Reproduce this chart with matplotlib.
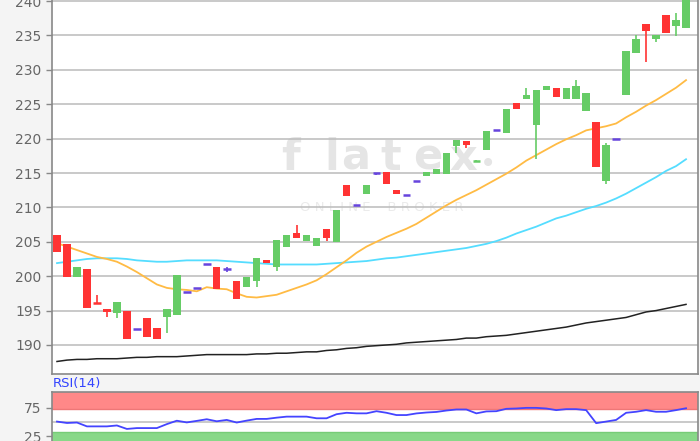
import matplotlib.pyplot as plt
import numpy as np

# OHLC, one entry per trading day
opens = [206.0, 204.7, 199.9, 201.0, 196.05, 195.3, 194.6, 194.9, 192.3, 193.9,
         192.5, 194.1, 194.4, 197.7, 198.3, 201.7, 201.4, 201.0, 199.3, 198.4,
         199.3, 202.4, 201.3, 204.2, 206.3, 205.1, 204.4, 206.8, 204.9, 213.2,
         210.3, 211.9, 215.0, 215.2, 212.6, 211.8, 213.9, 214.5, 214.8, 214.8,
         218.9, 219.6, 216.75, 218.3, 221.3, 220.8, 225.2, 225.8, 222.0, 227.0,
         227.4, 225.8, 225.8, 224.0, 222.4, 213.9, 220.0, 226.4, 232.4, 236.7,
         234.5, 238.0, 236.4, 236.1]
closes = [203.5, 199.9, 201.4, 195.4, 195.95, 194.8, 196.3, 190.8, 192.3, 191.1,
          190.8, 195.3, 200.1, 197.7, 198.3, 201.7, 198.2, 201.0, 196.7, 199.9,
          202.7, 201.9, 205.2, 206.0, 205.6, 206.0, 205.5, 205.5, 209.6, 211.6,
          210.3, 213.2, 215.0, 213.4, 212.0, 211.8, 213.9, 215.2, 215.6, 217.9,
          219.8, 219.0, 216.85, 221.1, 221.3, 224.3, 224.3, 226.3, 227.0, 227.6,
          226.1, 227.4, 227.6, 226.7, 215.8, 219.1, 220.0, 232.8, 234.5, 235.6,
          235.1, 235.4, 237.2, 240.4]
highs = [206.0, 204.7, 201.4, 201.0, 197.2, 195.3, 196.3, 194.9, 192.3, 193.9,
         192.5, 195.3, 200.1, 197.7, 198.3, 201.7, 201.4, 201.4, 199.3, 199.9,
         202.7, 202.4, 205.2, 206.0, 207.4, 206.0, 205.5, 206.8, 209.6, 213.2,
         210.3, 213.2, 215.0, 215.2, 212.6, 211.8, 213.9, 215.2, 215.6, 217.9,
         219.8, 219.6, 216.85, 221.1, 221.3, 224.3, 225.2, 227.4, 227.0, 227.6,
         227.4, 227.4, 228.5, 226.7, 222.4, 219.3, 220.0, 232.8, 235.1, 236.7,
         235.1, 238.0, 238.2, 240.4]
lows = [203.5, 199.9, 199.9, 195.4, 195.95, 194.1, 193.9, 190.8, 192.3, 191.1,
        190.8, 191.8, 194.4, 197.7, 198.3, 201.7, 198.2, 200.6, 196.7, 198.4,
        198.4, 201.9, 200.7, 204.2, 205.6, 205.1, 204.4, 205.1, 204.9, 211.6,
        210.3, 211.9, 214.7, 213.4, 212.0, 211.8, 213.9, 214.5, 214.8, 214.8,
        217.9, 218.6, 216.75, 218.3, 221.3, 220.8, 224.3, 225.8, 217.1, 227.0,
        226.1, 225.8, 225.8, 224.0, 215.8, 213.4, 220.0, 226.4, 232.4, 231.2,
        234.1, 235.4, 234.9, 236.1]

ma_orange = [204.8, 204.3, 203.8, 203.3, 202.8, 202.5, 202.1, 201.4, 200.6, 199.7,
             198.8, 198.3, 198.1, 198.0, 197.8, 198.4, 198.2, 198.1, 197.5, 197.0,
             196.9, 197.1, 197.3, 197.8, 198.3, 198.8, 199.4, 200.3, 201.3, 202.3,
             203.4, 204.3, 205.0, 205.7, 206.3, 206.9, 207.6, 208.5, 209.4, 210.3,
             211.1, 211.8, 212.5, 213.3, 214.1, 214.9, 215.8, 216.8, 217.6, 218.4,
             219.2, 219.9, 220.5, 221.2, 221.5, 221.8, 222.2, 223.1, 223.9, 224.8,
             225.6, 226.5, 227.4, 228.5]
ma_cyan = [201.9, 202.1, 202.3, 202.5, 202.6, 202.6, 202.6, 202.5, 202.3, 202.2,
           202.1, 202.1, 202.2, 202.3, 202.3, 202.3, 202.3, 202.2, 202.1, 202.0,
           201.9, 201.8, 201.7, 201.7, 201.7, 201.7, 201.7, 201.8, 201.9, 202.0,
           202.1, 202.2, 202.4, 202.6, 202.7, 202.9, 203.1, 203.3, 203.5, 203.7,
           203.9, 204.1, 204.4, 204.7, 205.1, 205.6, 206.2, 206.7, 207.2, 207.8,
           208.4, 208.8, 209.3, 209.8, 210.2, 210.7, 211.3, 212.0, 212.8, 213.6,
           214.4, 215.3, 216.0, 217.0]
ma_black = [187.6, 187.8, 187.9, 187.9, 188.0, 188.0, 188.0, 188.1, 188.2, 188.2,
            188.3, 188.3, 188.3, 188.4, 188.5, 188.6, 188.6, 188.6, 188.6, 188.6,
            188.7, 188.7, 188.8, 188.8, 188.9, 189.0, 189.0, 189.2, 189.3, 189.5,
            189.6, 189.8, 189.9, 190.0, 190.1, 190.3, 190.4, 190.5, 190.6, 190.7,
            190.8, 191.0, 191.0, 191.2, 191.3, 191.4, 191.6, 191.8, 192.0, 192.2,
            192.4, 192.6, 192.9, 193.2, 193.4, 193.6, 193.8, 194.0, 194.4, 194.8,
            195.0, 195.3, 195.6, 195.9]
rsi = [50.5, 48.0, 48.8, 42.0, 42.0, 42.0, 43.6, 37.5, 39.0, 39.0,
       39.0, 46.0, 52.0, 49.0, 51.7, 54.6, 51.0, 53.4, 48.8, 52.2,
       55.2, 55.2, 57.4, 59.2, 59.2, 59.2, 56.3, 56.3, 63.5, 66.0,
       65.0, 65.0, 68.8, 66.0, 62.0, 62.0, 64.9, 66.5, 67.5, 70.0,
       71.8, 71.8, 65.0, 68.4, 68.8, 73.0, 73.6, 74.7, 74.7, 73.6,
       70.7, 72.4, 72.4, 70.7, 47.7, 50.5, 53.4, 66.0, 67.8, 70.7,
       67.8, 67.8, 70.7, 74.0]

price_ticks = [190, 195, 200, 205, 210, 215, 220, 225, 230, 235, 240]
rsi_ticks = [25, 75]

UP = "#66cc66"
DOWN = "#ff3333"
DOJI = "#6644dd"
W, H = 700, 441

fig = plt.figure(figsize=(7, 4.41), dpi=100, facecolor="#f4f4f4")
ax = fig.add_axes([52 / W, 1 - 374 / H, 646 / W, 374 / H])
ax2 = fig.add_axes([52 / W, 0, 646 / W, 49 / H])

x = np.arange(len(opens))
o = np.array(opens)
c = np.array(closes)

# white plot area behind the watermark, watermark behind the axes
ax.patch.set_alpha(0)
fig.patches.append(plt.Rectangle((52 / W, 1 - 374 / H), 646 / W, 374 / H,
                                 transform=fig.transFigure, color="white", zorder=-2))
for ch, px in zip("flatex", [290, 332, 356, 391, 428, 463]):
    fig.text(px / W, 1 - 158 / H, ch, fontsize=31, fontweight="bold", color="#e5e5e5",
             ha="center", va="center", zorder=-1)
fig.text(488 / W, 1 - 164 / H, "\u2022", fontsize=20, color="#e5e5e5",
         ha="center", va="center", zorder=-1)
fig.text(382 / W, 1 - 207 / H, "O N L I N E    B R O K E R", fontsize=9.5,
         color="#ebebeb", ha="center", va="center", zorder=-1)

# moving averages
ax.plot(x, ma_black, color="#222222", lw=1.1, zorder=2)
ax.plot(x, ma_cyan, color="#55ddff", lw=1.3, zorder=2)
ax.plot(x, ma_orange, color="#ffbb44", lw=1.3, zorder=2)

# candles
for i in range(len(x)):
    diff = c[i] - o[i]
    if abs(diff) < 0.3:
        col = DOJI if diff == 0 else (UP if diff > 0 else DOWN)
        ax.vlines(x[i], lows[i], highs[i], color=col, lw=1.2, zorder=3)
        ax.hlines(o[i], x[i] - 0.38, x[i] + 0.38, color=col, lw=1.8, zorder=3)
    else:
        col = UP if diff > 0 else DOWN
        ax.vlines(x[i], lows[i], highs[i], color=col, lw=1.2, zorder=3)
        ax.bar(x[i], abs(diff), bottom=min(o[i], c[i]), width=0.74, color=col, zorder=3)

ax.set_xlim(-0.5, 64.2)
ax.set_ylim(185.78, 240.15)
ax.set_yticks(price_ticks)
ax.set_xticks([])
ax.grid(axis="y", color="#bbbbbb", lw=1.1, zorder=1)
ax.set_axisbelow(True)
ax.tick_params(axis="y", colors="#888888", labelcolor="#666666", labelsize=10,
               length=4, width=1)
for s in ["left", "bottom", "right"]:
    ax.spines[s].set_color("#888888")
    ax.spines[s].set_linewidth(1.2)
ax.spines["top"].set_visible(False)

# RSI panel
ax2.axhspan(72.7, 110, color="#ff8888", lw=0, zorder=1)
ax2.axhline(72.7, color="#ee7777", lw=1, zorder=1)
ax2.axhspan(0, 32.9, color="#88d888", lw=0, zorder=1)
ax2.axhline(32.9, color="#77cc77", lw=1, zorder=1)
ax2.axhline(50, color="#bbbbbb", lw=1.1, zorder=1)
ax2.plot(x, rsi, color="#4444ff", lw=1.3, zorder=3)
ax2.set_xlim(-0.5, 64.2)
ax2.set_ylim(16.2, 102.7)
ax2.set_yticks(rsi_ticks)
ax2.set_xticks([])
ax2.tick_params(axis="y", colors="#888888", labelcolor="#666666", labelsize=10,
                length=4, width=1)
for s in ["left", "top", "right"]:
    ax2.spines[s].set_color("#888888")
    ax2.spines[s].set_linewidth(1.2)
ax2.spines["bottom"].set_visible(False)
fig.text(53 / W, 1 - 384 / H, "RSI(14)", fontsize=9.5, color="#3344ff",
         ha="left", va="center")

fig.savefig("out.png", dpi=100, facecolor=fig.get_facecolor())
